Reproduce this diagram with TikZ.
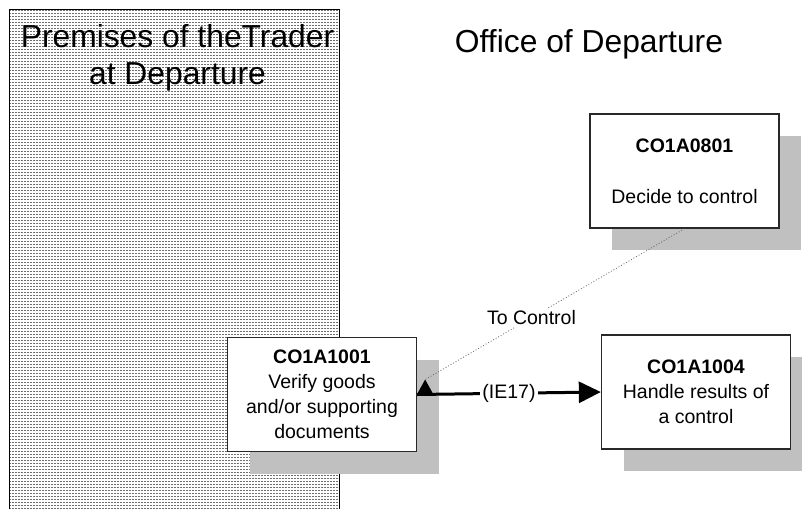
\documentclass[tikz,border=0pt]{standalone}
\usepackage{fontspec}
\setmainfont{Liberation Sans}
\usetikzlibrary{arrows.meta,shadows,calc}
\definecolor{shadowgray}{RGB}{192,192,192}
\definecolor{hatchgray}{RGB}{110,110,110}
\definecolor{edgegray}{RGB}{40,40,40}
\begin{document}
\begin{tikzpicture}[x=1pt,y=-1pt,
  proc/.style={draw=edgegray, line width=1.3pt, fill=white,
    minimum width=189pt, minimum height=114pt, inner sep=0pt,
    align=center, font=\fontsize{19.5}{25}\selectfont,
    drop shadow={shadow xshift=22pt, shadow yshift=-22pt,
      fill=shadowgray, opacity=1}},
  hatch/.style={draw=hatchgray, line width=0.8pt, dash pattern=on 2pt off 1pt},
  region/.style={font=\fontsize{31.8}{37}\selectfont, align=center, inner sep=0pt},
  flowlabel/.style={fill=white, inner sep=2pt, font=\fontsize{19.5}{23}\selectfont},
  dataflow/.style={line width=3pt, -{Triangle[length=22pt,width=21pt]}},
  trigger/.style={draw=black!60, line width=0.8pt, dash pattern=on 0.9pt off 2pt}]
\useasboundingbox (0,0) rectangle (802,509);

% trader premises: horizontally hatched strip
\foreach \yy in {10.5,13.5,...,508.5}
  \draw[hatch] (9,\yy) -- (339,\yy);
\draw[black, line width=0.9pt] (9,509) -- (9,9) -- (339,9) -- (339,509);

% region titles
\node[region] (premises) at (177.5,57.5) {Premises of theTrader\\at Departure};
\node[region, anchor=base] (office) at (589,52) {Office of Departure};

% processes
\node[proc] (decide) at (684.5,171) {\textbf{CO1A0801}\\[26pt]Decide to control};
\node[proc] (verify) at (322,394.5) {\textbf{CO1A1001}\\Verify goods\\and/or supporting\\documents};
\node[proc] (handle) at (696,392) {\textbf{CO1A1004}\\Handle results of\\a control};

% control results message
\draw[dataflow] (verify.east) -- node[flowlabel] (ie17) {(IE17)} (handle.west);

% trigger arriving at the verification
\coordinate (tip) at ($(verify.east)+(8,-15)$);
\fill[black] ($(verify.east)+(0,-0.5)$) -- ++(16,0) -- (tip) -- cycle;
\draw[trigger] (decide.south) -- node[pos=0.59, flowlabel] (tocontrol) {To Control} (tip);
\end{tikzpicture}
\end{document}
